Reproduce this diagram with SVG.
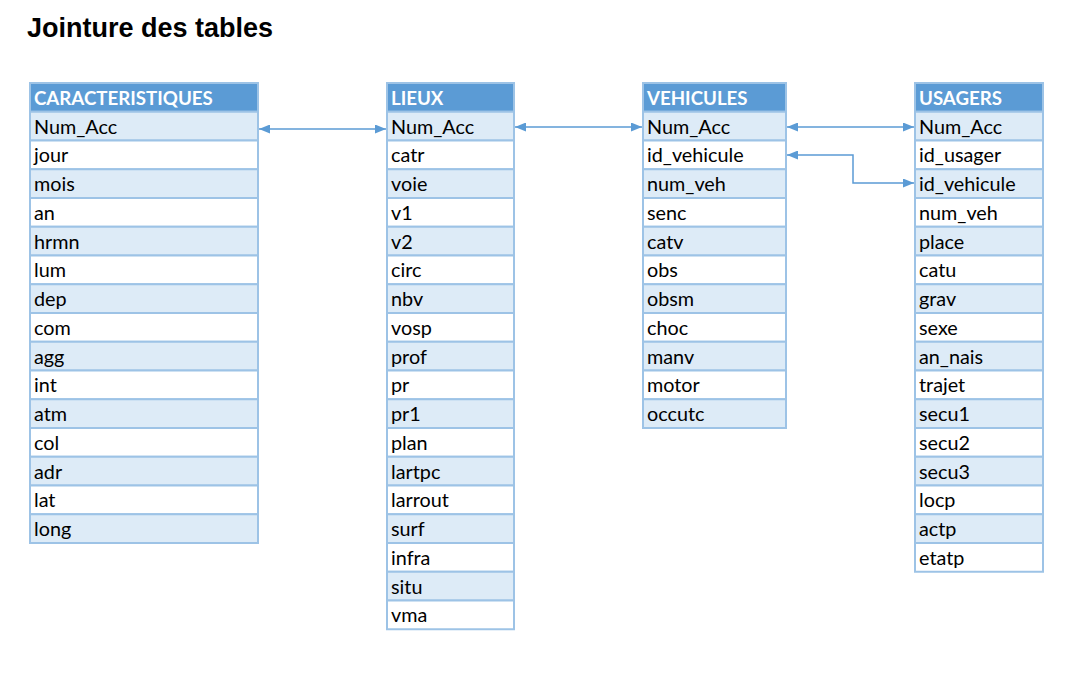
<svg xmlns="http://www.w3.org/2000/svg" width="1074" height="676" viewBox="0 0 1074 676">
<style>
.title{font-family:"Liberation Sans",Arial,sans-serif;font-weight:bold;font-size:27px;fill:#000}
.hd{fill:#5b9bd5;stroke:#9dc3e6;stroke-width:2}
.lt{fill:#ddebf7;stroke:#9dc3e6;stroke-width:2}
.wt{fill:#ffffff;stroke:#9dc3e6;stroke-width:2}
.ht{font-family:Lato,"Open Sans",sans-serif;font-weight:bold;font-size:18.7px;fill:#fff}
.rt{font-family:Lato,"Open Sans",sans-serif;font-size:19.8px;fill:#000}
.cn{fill:none;stroke:#5b9bd5;stroke-width:1.5}
</style>
<defs>
<marker id="ah" viewBox="0 0 11 9" refX="11" refY="4.5" markerWidth="11" markerHeight="9" markerUnits="userSpaceOnUse" orient="auto-start-reverse">
<path d="M0,0 L11,4.5 L0,9 z" fill="#5b9bd5"/>
</marker>
</defs>
<rect width="1074" height="676" fill="#fff"/>
<text class="title" x="27" y="37">Jointure des tables</text>

<g id="caracteristiques" transform="translate(30,83)">
<rect class="hd" x="0" y="0" width="228" height="28.75"/>
<text class="ht" x="4" y="21.5">CARACTERISTIQUES</text>
<rect class="lt" x="0" y="28.75" width="228" height="28.75"/><text class="rt" x="4" y="50.5">Num_Acc</text>
<rect class="wt" x="0" y="57.5" width="228" height="28.75"/><text class="rt" x="4" y="79.25">jour</text>
<rect class="lt" x="0" y="86.25" width="228" height="28.75"/><text class="rt" x="4" y="108">mois</text>
<rect class="wt" x="0" y="115" width="228" height="28.75"/><text class="rt" x="4" y="136.75">an</text>
<rect class="lt" x="0" y="143.75" width="228" height="28.75"/><text class="rt" x="4" y="165.5">hrmn</text>
<rect class="wt" x="0" y="172.5" width="228" height="28.75"/><text class="rt" x="4" y="194.25">lum</text>
<rect class="lt" x="0" y="201.25" width="228" height="28.75"/><text class="rt" x="4" y="223">dep</text>
<rect class="wt" x="0" y="230" width="228" height="28.75"/><text class="rt" x="4" y="251.75">com</text>
<rect class="lt" x="0" y="258.75" width="228" height="28.75"/><text class="rt" x="4" y="280.5">agg</text>
<rect class="wt" x="0" y="287.5" width="228" height="28.75"/><text class="rt" x="4" y="309.25">int</text>
<rect class="lt" x="0" y="316.25" width="228" height="28.75"/><text class="rt" x="4" y="338">atm</text>
<rect class="wt" x="0" y="345" width="228" height="28.75"/><text class="rt" x="4" y="366.75">col</text>
<rect class="lt" x="0" y="373.75" width="228" height="28.75"/><text class="rt" x="4" y="395.5">adr</text>
<rect class="wt" x="0" y="402.5" width="228" height="28.75"/><text class="rt" x="4" y="424.25">lat</text>
<rect class="lt" x="0" y="431.25" width="228" height="28.75"/><text class="rt" x="4" y="453">long</text>
</g>

<g id="lieux" transform="translate(387,83)">
<rect class="hd" x="0" y="0" width="127" height="28.75"/>
<text class="ht" x="4" y="21.5">LIEUX</text>
<rect class="lt" x="0" y="28.75" width="127" height="28.75"/><text class="rt" x="4" y="50.5">Num_Acc</text>
<rect class="wt" x="0" y="57.5" width="127" height="28.75"/><text class="rt" x="4" y="79.25">catr</text>
<rect class="lt" x="0" y="86.25" width="127" height="28.75"/><text class="rt" x="4" y="108">voie</text>
<rect class="wt" x="0" y="115" width="127" height="28.75"/><text class="rt" x="4" y="136.75">v1</text>
<rect class="lt" x="0" y="143.75" width="127" height="28.75"/><text class="rt" x="4" y="165.5">v2</text>
<rect class="wt" x="0" y="172.5" width="127" height="28.75"/><text class="rt" x="4" y="194.25">circ</text>
<rect class="lt" x="0" y="201.25" width="127" height="28.75"/><text class="rt" x="4" y="223">nbv</text>
<rect class="wt" x="0" y="230" width="127" height="28.75"/><text class="rt" x="4" y="251.75">vosp</text>
<rect class="lt" x="0" y="258.75" width="127" height="28.75"/><text class="rt" x="4" y="280.5">prof</text>
<rect class="wt" x="0" y="287.5" width="127" height="28.75"/><text class="rt" x="4" y="309.25">pr</text>
<rect class="lt" x="0" y="316.25" width="127" height="28.75"/><text class="rt" x="4" y="338">pr1</text>
<rect class="wt" x="0" y="345" width="127" height="28.75"/><text class="rt" x="4" y="366.75">plan</text>
<rect class="lt" x="0" y="373.75" width="127" height="28.75"/><text class="rt" x="4" y="395.5">lartpc</text>
<rect class="wt" x="0" y="402.5" width="127" height="28.75"/><text class="rt" x="4" y="424.25">larrout</text>
<rect class="lt" x="0" y="431.25" width="127" height="28.75"/><text class="rt" x="4" y="453">surf</text>
<rect class="wt" x="0" y="460" width="127" height="28.75"/><text class="rt" x="4" y="481.75">infra</text>
<rect class="lt" x="0" y="488.75" width="127" height="28.75"/><text class="rt" x="4" y="510.5">situ</text>
<rect class="wt" x="0" y="517.5" width="127" height="28.75"/><text class="rt" x="4" y="539.25">vma</text>
</g>

<g id="vehicules" transform="translate(643,83)">
<rect class="hd" x="0" y="0" width="143" height="28.75"/>
<text class="ht" x="4" y="21.5">VEHICULES</text>
<rect class="lt" x="0" y="28.75" width="143" height="28.75"/><text class="rt" x="4" y="50.5">Num_Acc</text>
<rect class="wt" x="0" y="57.5" width="143" height="28.75"/><text class="rt" x="4" y="79.25">id_vehicule</text>
<rect class="lt" x="0" y="86.25" width="143" height="28.75"/><text class="rt" x="4" y="108">num_veh</text>
<rect class="wt" x="0" y="115" width="143" height="28.75"/><text class="rt" x="4" y="136.75">senc</text>
<rect class="lt" x="0" y="143.75" width="143" height="28.75"/><text class="rt" x="4" y="165.5">catv</text>
<rect class="wt" x="0" y="172.5" width="143" height="28.75"/><text class="rt" x="4" y="194.25">obs</text>
<rect class="lt" x="0" y="201.25" width="143" height="28.75"/><text class="rt" x="4" y="223">obsm</text>
<rect class="wt" x="0" y="230" width="143" height="28.75"/><text class="rt" x="4" y="251.75">choc</text>
<rect class="lt" x="0" y="258.75" width="143" height="28.75"/><text class="rt" x="4" y="280.5">manv</text>
<rect class="wt" x="0" y="287.5" width="143" height="28.75"/><text class="rt" x="4" y="309.25">motor</text>
<rect class="lt" x="0" y="316.25" width="143" height="28.75"/><text class="rt" x="4" y="338">occutc</text>
</g>

<g id="usagers" transform="translate(915,83)">
<rect class="hd" x="0" y="0" width="128" height="28.75"/>
<text class="ht" x="4" y="21.5">USAGERS</text>
<rect class="lt" x="0" y="28.75" width="128" height="28.75"/><text class="rt" x="4" y="50.5">Num_Acc</text>
<rect class="wt" x="0" y="57.5" width="128" height="28.75"/><text class="rt" x="4" y="79.25">id_usager</text>
<rect class="lt" x="0" y="86.25" width="128" height="28.75"/><text class="rt" x="4" y="108">id_vehicule</text>
<rect class="wt" x="0" y="115" width="128" height="28.75"/><text class="rt" x="4" y="136.75">num_veh</text>
<rect class="lt" x="0" y="143.75" width="128" height="28.75"/><text class="rt" x="4" y="165.5">place</text>
<rect class="wt" x="0" y="172.5" width="128" height="28.75"/><text class="rt" x="4" y="194.25">catu</text>
<rect class="lt" x="0" y="201.25" width="128" height="28.75"/><text class="rt" x="4" y="223">grav</text>
<rect class="wt" x="0" y="230" width="128" height="28.75"/><text class="rt" x="4" y="251.75">sexe</text>
<rect class="lt" x="0" y="258.75" width="128" height="28.75"/><text class="rt" x="4" y="280.5">an_nais</text>
<rect class="wt" x="0" y="287.5" width="128" height="28.75"/><text class="rt" x="4" y="309.25">trajet</text>
<rect class="lt" x="0" y="316.25" width="128" height="28.75"/><text class="rt" x="4" y="338">secu1</text>
<rect class="wt" x="0" y="345" width="128" height="28.75"/><text class="rt" x="4" y="366.75">secu2</text>
<rect class="lt" x="0" y="373.75" width="128" height="28.75"/><text class="rt" x="4" y="395.5">secu3</text>
<rect class="wt" x="0" y="402.5" width="128" height="28.75"/><text class="rt" x="4" y="424.25">locp</text>
<rect class="lt" x="0" y="431.25" width="128" height="28.75"/><text class="rt" x="4" y="453">actp</text>
<rect class="wt" x="0" y="460" width="128" height="28.75"/><text class="rt" x="4" y="481.75">etatp</text>
</g>

<g id="connectors">
<path class="cn" d="M259,129 H386" marker-start="url(#ah)" marker-end="url(#ah)"/>
<path class="cn" d="M515,127 H642" marker-start="url(#ah)" marker-end="url(#ah)"/>
<path class="cn" d="M787,127 H914" marker-start="url(#ah)" marker-end="url(#ah)"/>
<path class="cn" d="M787,155 H853 V183 H914" marker-start="url(#ah)" marker-end="url(#ah)"/>
</g>
</svg>
